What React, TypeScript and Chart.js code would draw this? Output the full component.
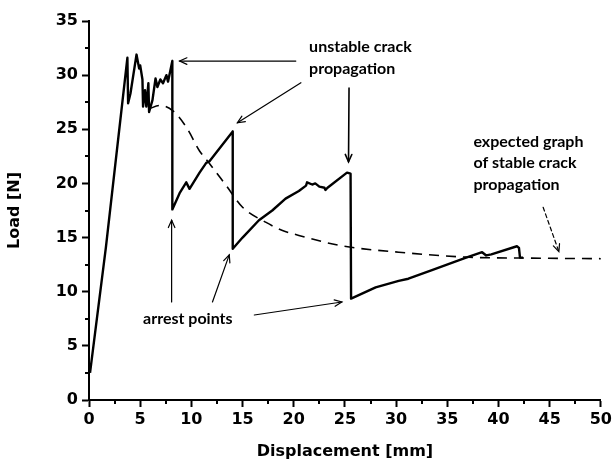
import { useEffect, useRef } from "react";
import { Chart, registerables } from "chart.js";

Chart.register(...registerables);

// Measured load–displacement record (mm, N)
const displacement = [
  0.1, 1.65, 3.75, 3.82, 4.05, 4.64, 4.9, 5.0, 5.22, 5.28, 5.47, 5.6, 5.8, 5.87, 6.2, 6.5, 6.68, 6.97,
  7.23, 7.56, 7.72, 8.14, 8.14, 8.85, 9.5, 9.82, 10.8, 11.45, 11.77, 14.04, 14.04, 15.0, 16.6, 17.9,
  19.2, 20.5, 21.2, 21.3, 21.8, 22.1, 22.5, 23.0, 23.1, 23.3, 25.2, 25.55, 25.6, 28.0, 30.25, 31.2,
  33.5, 36.7, 38.4, 38.8, 39.3, 41.8, 42.0, 42.1, 42.4,
];
const load = [
  2.5, 14.1, 31.6, 27.4, 28.3, 31.9, 30.6, 30.9, 29.6, 27.1, 28.6, 27.1, 29.25, 26.6, 27.7, 29.7, 28.9,
  29.6, 29.25, 30.0, 29.4, 31.3, 17.6, 19.1, 20.1, 19.5, 21.0, 21.9, 22.05, 24.8, 13.97, 15.0, 16.6,
  17.5, 18.6, 19.3, 19.8, 20.1, 19.9, 20.0, 19.7, 19.6, 19.4, 19.6, 21.0, 20.9, 9.36, 10.4, 11.0,
  11.2, 12.0, 13.1, 13.65, 13.35, 13.45, 14.2, 14.05, 13.15, 13.15,
];

// Expected curve for stable crack growth
const stableDisplacement = [5.9, 6.9, 8.2, 9.5, 10.8, 11.8, 13.4, 15.0, 17.3, 18.9, 20.5, 23.8, 25.6, 30.25, 36.7, 43.2, 50];
const stableLoad = [26.9, 27.2, 26.7, 25.2, 23.0, 21.8, 19.8, 17.8, 16.4, 15.65, 15.2, 14.4, 14.1, 13.65, 13.2, 13.1, 13.05];

// Axis ranges
const xRange = [0, 50];
const yRange = [0, 35];
const majorStep = 5;

// Callout texts
const unstableText = ["unstable crack", "propagation"];
const arrestText = ["arrest points"];
const stableText = ["expected graph", "of stable crack", "propagation"];

// Callout anchors and arrows, in data units (displacement, load)
const notes = [
  { lines: unstableText, at: [21.5, 32.6] },
  { lines: arrestText, at: [5.28, 7.54] },
  { lines: stableText, at: [37.55, 23.85] },
];
const arrows = [
  { from: [20.2, 31.3], to: [8.85, 31.3], dashed: false, width: 1.2 },
  { from: [20.7, 29.3], to: [14.5, 25.6], dashed: false, width: 1.2 },
  { from: [25.4, 28.8], to: [25.35, 22.0], dashed: false, width: 1.6 },
  { from: [8.07, 9.05], to: [8.07, 16.6], dashed: false, width: 1.2 },
  { from: [12.06, 9.05], to: [13.7, 13.4], dashed: false, width: 1.2 },
  { from: [16.15, 7.85], to: [24.7, 9.05], dashed: false, width: 1.2 },
  { from: [44.36, 17.8], to: [45.9, 13.7], dashed: true, width: 1.2 },
];

function drawArrow(ctx: CanvasRenderingContext2D, x1: number, y1: number, x2: number, y2: number, dashed: boolean, width: number) {
  const ang = Math.atan2(y2 - y1, x2 - x1);
  const head = 8;
  const spread = 0.42;
  ctx.lineWidth = width;
  ctx.setLineDash(dashed ? [4, 3] : []);
  ctx.beginPath();
  ctx.moveTo(x1, y1);
  ctx.lineTo(x2, y2);
  ctx.stroke();
  ctx.setLineDash([]);
  ctx.beginPath();
  ctx.moveTo(x2 - head * Math.cos(ang - spread), y2 - head * Math.sin(ang - spread));
  ctx.lineTo(x2, y2);
  ctx.lineTo(x2 - head * Math.cos(ang + spread), y2 - head * Math.sin(ang + spread));
  ctx.stroke();
}

const calloutPlugin = {
  id: "calloutPlugin",
  afterDatasetsDraw(chart: any) {
    const { ctx, scales } = chart;
    const px = (v: number) => scales.x.getPixelForValue(v);
    const py = (v: number) => scales.y.getPixelForValue(v);
    ctx.save();
    ctx.strokeStyle = "#000";
    ctx.fillStyle = "#000";
    ctx.lineCap = "round";
    for (const a of arrows) {
      drawArrow(ctx, px(a.from[0]), py(a.from[1]), px(a.to[0]), py(a.to[1]), a.dashed, a.width);
    }
    ctx.font = "bold 16px Lato";
    ctx.textAlign = "left";
    ctx.textBaseline = "middle";
    for (const n of notes) {
      n.lines.forEach((t, i) => ctx.fillText(t, px(n.at[0]), py(n.at[1]) + i * 21.5));
    }
    ctx.restore();
  },
};

// Half-step ticks between the labelled ones
const minorTickPlugin = {
  id: "minorTickPlugin",
  afterDraw(chart: any) {
    const { ctx, scales, chartArea } = chart;
    ctx.save();
    ctx.strokeStyle = "#000";
    ctx.lineWidth = 2;
    ctx.beginPath();
    for (let v = xRange[0] + majorStep / 2; v < xRange[1]; v += majorStep) {
      const x = Math.round(scales.x.getPixelForValue(v));
      ctx.moveTo(x, chartArea.bottom);
      ctx.lineTo(x, chartArea.bottom + 4);
    }
    for (let v = yRange[0] + majorStep / 2; v < yRange[1]; v += majorStep) {
      const y = Math.round(scales.y.getPixelForValue(v));
      ctx.moveTo(chartArea.left, y);
      ctx.lineTo(chartArea.left - 4, y);
    }
    ctx.stroke();
    ctx.restore();
  },
};

const axisFont = { family: "'DejaVu Sans'", size: 16, weight: "bold" as const };

export default function App() {
  const canvasRef = useRef<HTMLCanvasElement | null>(null);

  useEffect(() => {
    const canvas = canvasRef.current;
    if (!canvas) return;
    const chart = new Chart(canvas, {
      type: "line",
      data: {
        datasets: [
          {
            label: "measured",
            data: displacement.map((d, i) => ({ x: d, y: load[i] })),
            borderColor: "#000",
            borderWidth: 2.4,
            borderJoinStyle: "round",
            pointRadius: 0,
            tension: 0,
            fill: false,
          },
          {
            label: "stable",
            data: stableDisplacement.map((d, i) => ({ x: d, y: stableLoad[i] })),
            borderColor: "#000",
            borderWidth: 1.6,
            borderDash: [10, 7],
            pointRadius: 0,
            cubicInterpolationMode: "monotone",
            fill: false,
          },
        ],
      },
      options: {
        animation: false,
        responsive: false,
        layout: { padding: { left: 0, right: 12, top: 21, bottom: 0 } },
        plugins: { legend: { display: false }, tooltip: { enabled: false } },
        scales: {
          x: {
            type: "linear",
            min: xRange[0],
            max: xRange[1],
            afterFit: (s: any) => {
              s.height = 66;
            },
            border: { display: true, color: "#000", width: 2 },
            grid: { drawOnChartArea: false, drawTicks: true, tickLength: 7, tickWidth: 2, tickColor: "#000" },
            ticks: { stepSize: majorStep, color: "#000", font: axisFont, padding: 3, autoSkip: false, maxRotation: 0 },
            title: { display: true, text: "Displacement [mm]", color: "#000", font: axisFont, padding: { top: 0, bottom: 5 } },
          },
          y: {
            type: "linear",
            min: yRange[0],
            max: yRange[1],
            afterFit: (s: any) => {
              s.width = 89;
            },
            border: { display: true, color: "#000", width: 2 },
            grid: { drawOnChartArea: false, drawTicks: true, tickLength: 7, tickWidth: 2, tickColor: "#000" },
            ticks: { stepSize: majorStep, color: "#000", font: axisFont, padding: 4, autoSkip: false },
            title: { display: true, text: "Load [N]", color: "#000", font: axisFont, padding: { top: 5, bottom: 0 } },
          },
        },
      },
      plugins: [minorTickPlugin, calloutPlugin],
    } as any);
    return () => chart.destroy();
  }, []);

  return (
    <div style={{ position: "absolute", left: 0, top: 0, width: 615, height: 466, background: "#fff" }}>
      <canvas ref={canvasRef} width={615} height={466} />
    </div>
  );
}
